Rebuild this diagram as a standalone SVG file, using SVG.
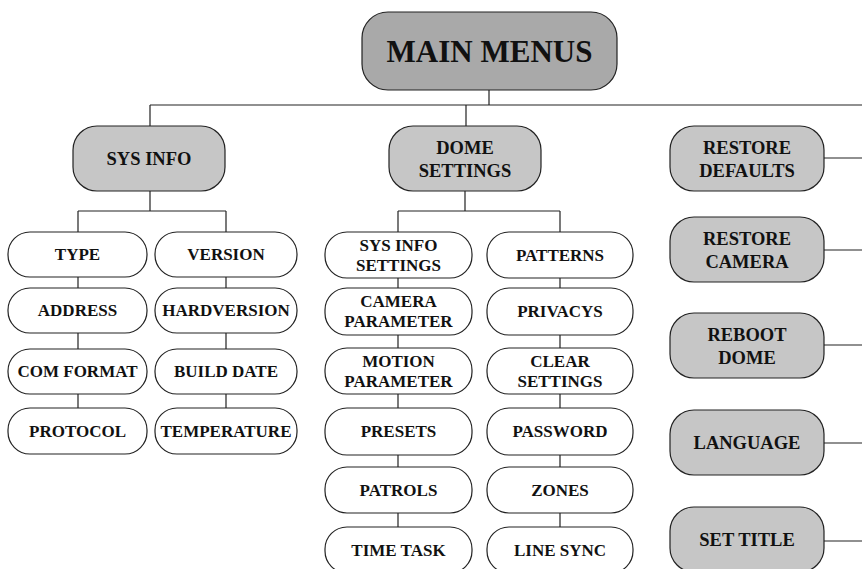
<svg xmlns="http://www.w3.org/2000/svg" width="862" height="569" viewBox="0 0 862 569">
<style>
.bg{fill:#ffffff}
.main{fill:#a9a9a9;stroke:#222;stroke-width:1.2}
.grey{fill:#c6c6c6;stroke:#222;stroke-width:1.2}
.leaf{fill:#ffffff;stroke:#222;stroke-width:1.2}
.c{fill:none;stroke:#222;stroke-width:1.2}
text{font-family:"Liberation Serif","Times New Roman",serif;font-weight:bold;fill:#111;text-anchor:middle}
.t31{font-size:31px}
.t18{font-size:18.5px}
.t17{font-size:17px}
</style>
<rect class="bg" x="0" y="0" width="862" height="569"/>
<g id="connectors">
<path class="c" d="M489 90V105M150 105H862M150 105V126M466 105V126"/>
<path class="c" d="M150 191V211M78 211H226M78 211V232M226 211V232"/>
<path class="c" d="M78 277V288M78 333V349M78 394V408M226 277V288M226 333V349M226 394V408"/>
<path class="c" d="M465 191V211M398 211H560M398 211V232M560 211V232"/>
<path class="c" d="M398 278V288M398 335V348M398 394V408M398 455V467M398 513V527"/>
<path class="c" d="M560 278V288M560 335V348M560 394V408M560 455V467M560 513V527"/>
<path class="c" d="M824 158H862M824 250H862M824 345H862M824 443H862M824 541H862"/>
</g>
<g id="main-menus"><rect class="main" x="362" y="12" width="255" height="78" rx="26"/><text class="t31" x="489.5" y="62">MAIN MENUS</text></g>
<g id="sys-info"><rect class="grey" x="73" y="126" width="152" height="65" rx="24"/><text class="t18" x="149" y="165">SYS INFO</text></g>
<g id="dome-settings"><rect class="grey" x="389" y="126" width="152" height="65" rx="24"/><text class="t18" x="465" y="154">DOME</text><text class="t18" x="465" y="177">SETTINGS</text></g>
<g id="restore-defaults"><rect class="grey" x="670" y="126" width="154" height="65" rx="24"/><text class="t18" x="747" y="154">RESTORE</text><text class="t18" x="747" y="177">DEFAULTS</text></g>
<g id="restore-camera"><rect class="grey" x="670" y="217" width="154" height="65" rx="24"/><text class="t18" x="747" y="245">RESTORE</text><text class="t18" x="747" y="268">CAMERA</text></g>
<g id="reboot-dome"><rect class="grey" x="670" y="313" width="154" height="65" rx="24"/><text class="t18" x="747" y="341">REBOOT</text><text class="t18" x="747" y="364">DOME</text></g>
<g id="language"><rect class="grey" x="670" y="410" width="154" height="65" rx="24"/><text class="t18" x="747" y="449">LANGUAGE</text></g>
<g id="set-title"><rect class="grey" x="670" y="507" width="154" height="65" rx="24"/><text class="t18" x="747" y="546">SET TITLE</text></g>
<g id="type"><rect class="leaf" x="8" y="232" width="139" height="45" rx="22"/><text class="t17" x="77.5" y="260">TYPE</text></g>
<g id="address"><rect class="leaf" x="8" y="288" width="139" height="45" rx="22"/><text class="t17" x="77.5" y="316">ADDRESS</text></g>
<g id="com-format"><rect class="leaf" x="8" y="349" width="139" height="45" rx="22"/><text class="t17" x="77.5" y="377">COM FORMAT</text></g>
<g id="protocol"><rect class="leaf" x="8" y="408" width="139" height="46" rx="22"/><text class="t17" x="77.5" y="437">PROTOCOL</text></g>
<g id="version"><rect class="leaf" x="155" y="232" width="142" height="45" rx="22"/><text class="t17" x="226" y="260">VERSION</text></g>
<g id="hardversion"><rect class="leaf" x="155" y="288" width="142" height="45" rx="22"/><text class="t17" x="226" y="316">HARDVERSION</text></g>
<g id="build-date"><rect class="leaf" x="155" y="349" width="142" height="45" rx="22"/><text class="t17" x="226" y="377">BUILD DATE</text></g>
<g id="temperature"><rect class="leaf" x="155" y="408" width="142" height="46" rx="22"/><text class="t17" x="226" y="437">TEMPERATURE</text></g>
<g id="sys-info-settings"><rect class="leaf" x="325" y="232" width="147" height="46" rx="22"/><text class="t17" x="398.5" y="251">SYS INFO</text><text class="t17" x="398.5" y="271">SETTINGS</text></g>
<g id="camera-parameter"><rect class="leaf" x="325" y="288" width="147" height="47" rx="22"/><text class="t17" x="398.5" y="307">CAMERA</text><text class="t17" x="398.5" y="327">PARAMETER</text></g>
<g id="motion-parameter"><rect class="leaf" x="325" y="348" width="147" height="46" rx="22"/><text class="t17" x="398.5" y="367">MOTION</text><text class="t17" x="398.5" y="387">PARAMETER</text></g>
<g id="presets"><rect class="leaf" x="325" y="408" width="147" height="47" rx="22"/><text class="t17" x="398.5" y="437">PRESETS</text></g>
<g id="patrols"><rect class="leaf" x="325" y="467" width="147" height="46" rx="22"/><text class="t17" x="398.5" y="496">PATROLS</text></g>
<g id="time-task"><rect class="leaf" x="325" y="527" width="147" height="46" rx="22"/><text class="t17" x="398.5" y="556">TIME TASK</text></g>
<g id="patterns"><rect class="leaf" x="487" y="232" width="146" height="46" rx="22"/><text class="t17" x="560" y="261">PATTERNS</text></g>
<g id="privacys"><rect class="leaf" x="487" y="288" width="146" height="47" rx="22"/><text class="t17" x="560" y="317">PRIVACYS</text></g>
<g id="clear-settings"><rect class="leaf" x="487" y="348" width="146" height="46" rx="22"/><text class="t17" x="560" y="367">CLEAR</text><text class="t17" x="560" y="387">SETTINGS</text></g>
<g id="password"><rect class="leaf" x="487" y="408" width="146" height="47" rx="22"/><text class="t17" x="560" y="437">PASSWORD</text></g>
<g id="zones"><rect class="leaf" x="487" y="467" width="146" height="46" rx="22"/><text class="t17" x="560" y="496">ZONES</text></g>
<g id="line-sync"><rect class="leaf" x="487" y="527" width="146" height="46" rx="22"/><text class="t17" x="560" y="556">LINE SYNC</text></g>
</svg>
